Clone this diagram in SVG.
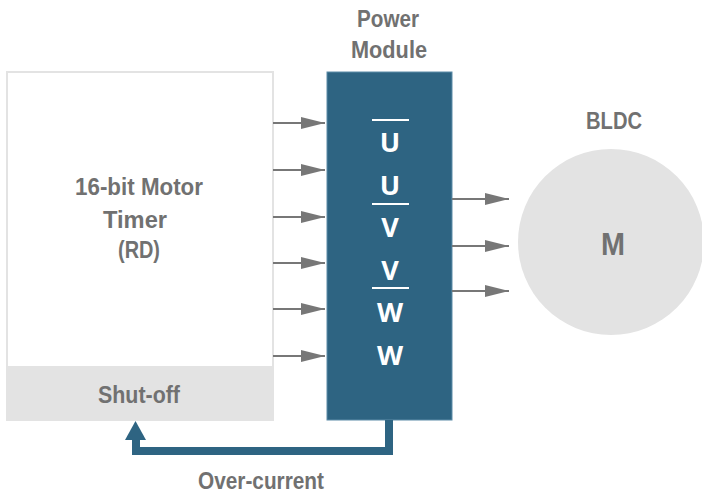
<svg xmlns="http://www.w3.org/2000/svg" width="702" height="499" viewBox="0 0 702 499">
<style>
.lbl{font-family:"Liberation Sans",Arial,sans-serif;font-weight:bold;fill:#717171;text-anchor:middle}
.sig{font-family:"Open Sans","Liberation Sans",sans-serif;font-weight:bold;fill:#ffffff;text-anchor:middle;font-size:27px}
.ov{stroke:#ffffff;stroke-width:2}
.conn{stroke:#777777;stroke-width:2;fill:none}
</style>
<defs>
<marker id="ah" markerWidth="24" markerHeight="12" refX="24" refY="6" orient="auto" markerUnits="userSpaceOnUse">
<path d="M0,0 L24,6 L0,12 Z" fill="#777777"/>
</marker>
</defs>
<g id="timer">
<rect x="7" y="72" width="266" height="348" fill="#ffffff" stroke="#e3e3e3" stroke-width="2"/>
<rect x="6" y="366" width="268" height="55" fill="#e3e3e3"/>
<text class="lbl" x="139" y="195" font-size="24" textLength="128" lengthAdjust="spacingAndGlyphs">16-bit Motor</text>
<text class="lbl" x="135" y="228" font-size="24" textLength="64" lengthAdjust="spacingAndGlyphs">Timer</text>
<text class="lbl" x="139" y="258" font-size="24" textLength="42" lengthAdjust="spacingAndGlyphs">(RD)</text>
<text class="lbl" x="139" y="403" font-size="24" textLength="82" lengthAdjust="spacingAndGlyphs">Shut-off</text>
</g>
<g id="power">
<text class="lbl" x="388" y="27" font-size="24" textLength="62" lengthAdjust="spacingAndGlyphs">Power</text>
<text class="lbl" x="389" y="58" font-size="24" textLength="76" lengthAdjust="spacingAndGlyphs">Module</text>
<rect x="327" y="72" width="125" height="348" fill="#2e6482" stroke="#5d8ca8" stroke-width="1"/>
<line class="ov" x1="372" y1="120" x2="409" y2="120"/>
<text class="sig" x="390" y="152">U</text>
<text class="sig" x="390" y="195">U</text>
<line class="ov" x1="372" y1="204" x2="409" y2="204"/>
<text class="sig" x="390" y="237">V</text>
<text class="sig" x="390" y="280">V</text>
<line class="ov" x1="372" y1="288" x2="409" y2="288"/>
<text class="sig" x="390" y="322">W</text>
<text class="sig" x="390" y="365">W</text>
</g>
<g id="motor">
<text class="lbl" x="614" y="129" font-size="24" textLength="56" lengthAdjust="spacingAndGlyphs">BLDC</text>
<circle cx="611" cy="242" r="93" fill="#e3e3e3"/>
<text class="lbl" x="613" y="255" font-size="32" textLength="24" lengthAdjust="spacingAndGlyphs">M</text>
</g>
<g id="connectors">
<line class="conn" x1="273" y1="123" x2="325" y2="123" marker-end="url(#ah)"/>
<line class="conn" x1="273" y1="170" x2="325" y2="170" marker-end="url(#ah)"/>
<line class="conn" x1="273" y1="217" x2="325" y2="217" marker-end="url(#ah)"/>
<line class="conn" x1="273" y1="263" x2="325" y2="263" marker-end="url(#ah)"/>
<line class="conn" x1="273" y1="309" x2="325" y2="309" marker-end="url(#ah)"/>
<line class="conn" x1="273" y1="356" x2="325" y2="356" marker-end="url(#ah)"/>
<line class="conn" x1="452" y1="199" x2="509" y2="199" marker-end="url(#ah)"/>
<line class="conn" x1="452" y1="246" x2="509" y2="246" marker-end="url(#ah)"/>
<line class="conn" x1="452" y1="291" x2="509" y2="291" marker-end="url(#ah)"/>
<path d="M389,420 V451 H136 V438" fill="none" stroke="#2e6482" stroke-width="8"/>
<path d="M125,440 L135.5,421 L146,440 Z" fill="#2e6482"/>
<text class="lbl" x="261" y="489" font-size="24" textLength="126" lengthAdjust="spacingAndGlyphs">Over-current</text>
</g>
</svg>
